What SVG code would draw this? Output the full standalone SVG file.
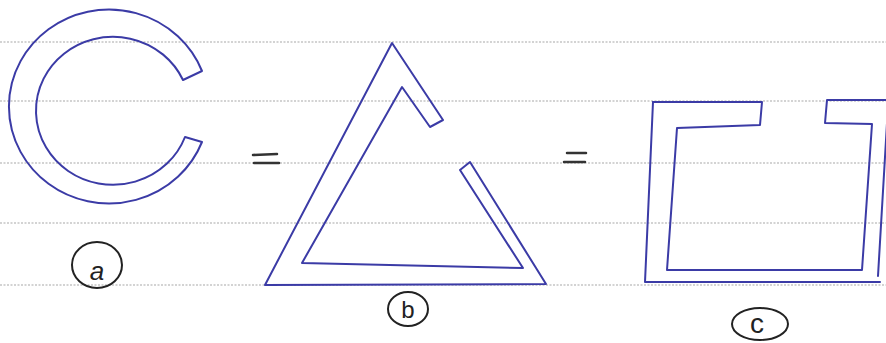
<svg xmlns="http://www.w3.org/2000/svg" width="886" height="343" viewBox="0 0 886 343">
<style>
.rule{stroke:#a8a8a8;stroke-width:1.2;stroke-dasharray:2 1.5;fill:none}
.shape{fill:none;stroke:#3b3ba6;stroke-width:2;stroke-linejoin:round;stroke-linecap:round}
.eq{stroke:#333;stroke-width:2.5;stroke-linecap:round}
.circ{fill:none;stroke:#222;stroke-width:2}
.lbl{font-family:"Liberation Sans",Arial,sans-serif;fill:#222;text-anchor:middle}
</style>
<rect width="886" height="343" fill="#fff"/>
<g id="ruled-lines">
<line class="rule" x1="0" y1="42" x2="886" y2="42"/>
<line class="rule" x1="0" y1="101" x2="886" y2="101"/>
<line class="rule" x1="0" y1="163" x2="886" y2="163"/>
<line class="rule" x1="0" y1="223" x2="886" y2="223"/>
<line class="rule" x1="0" y1="285" x2="886" y2="285"/>
</g>
<g id="shape-a">
<path class="shape" d="M202,71 A100 97 0 1 0 202,142 L185,137 A77 74 0 1 1 183,80 Z"/>
<ellipse class="circ" cx="97" cy="265" rx="25" ry="23"/>
<text class="lbl" x="97" y="280" font-size="26" font-style="italic" font-family="Liberation Serif,serif">a</text>
</g>
<g id="shape-b">
<path class="shape" d="M443,120 L392,43 L265,285 L546,284 L470,162 L460,170 L523,268 L302,263 L402,87 L430,127 Z"/>
<ellipse class="circ" cx="408" cy="309" rx="20" ry="17"/>
<text class="lbl" x="408" y="318" font-size="24">b</text>
</g>
<g id="shape-c">
<path class="shape" d="M653,102 L762,102 L760,125 L677,128 L667,270 L862,270 L872,124 L825,123 L827,100 L888,100"/>
<path class="shape" d="M653,102 L645,282 L880,282"/>
<path class="shape" d="M888,106 L878,276"/>
<ellipse class="circ" cx="760" cy="324" rx="28" ry="16"/>
<text class="lbl" x="757" y="333" font-size="28">c</text>
</g>
<g id="connectors">
<line class="eq" x1="253" y1="155" x2="277" y2="154"/>
<line class="eq" x1="254" y1="163" x2="279" y2="163"/>
<line class="eq" x1="567" y1="153" x2="586" y2="153"/>
<line class="eq" x1="564" y1="162" x2="585" y2="162"/>
</g>
</svg>
